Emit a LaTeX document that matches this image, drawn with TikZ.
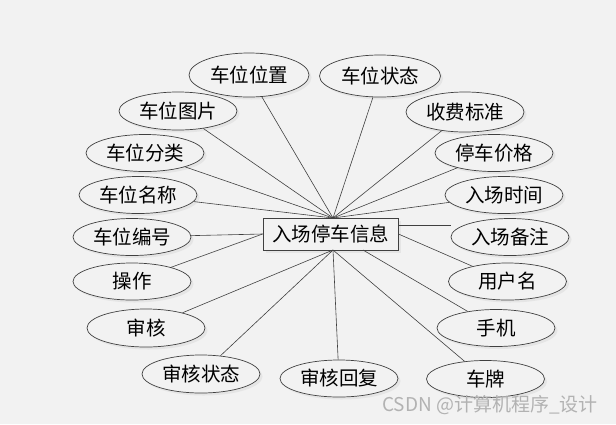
\documentclass[tikz,border=0pt]{standalone}
\usepackage{fontspec}
\setmainfont{Noto Sans CJK SC}
\usetikzlibrary{shapes.geometric,shadows}
\definecolor{bgcol}{HTML}{F2F2F2}
\definecolor{linecol}{HTML}{404040}
\tikzset{
  attr/.style={ellipse,draw=linecol,line width=0.7pt,fill=bgcol,
    minimum width=118,minimum height=37,inner sep=0pt,
    font=\fontsize{19.5}{21}\selectfont,
    drop shadow={shadow xshift=2.5pt,shadow yshift=-2.5pt,fill=black!10,opacity=1}},
  entity/.style={rectangle,draw=linecol,line width=0.8pt,fill=bgcol,
    minimum width=135,minimum height=32,inner sep=0pt,
    font=\fontsize{19.5}{21}\selectfont,
    drop shadow={shadow xshift=2.5pt,shadow yshift=-2.5pt,fill=black!10,opacity=1}},
  link/.style={draw=linecol,line width=0.6pt}
}
\begin{document}
\begin{tikzpicture}[x=1pt,y=-1pt]
  \fill[bgcol] (0,0) rectangle (616,424);
  \useasboundingbox (0,0) rectangle (616,424);
  % entity
  \node[entity] (hub) at (330.5,234) {入场停车信息};
  % attributes, left side
  \node[attr,minimum width=120,minimum height=44] (pos) at (249,75) {车位位置};
  \node[attr,minimum height=38] (img) at (178,111) {车位图片};
  \node[attr] (cat) at (145,153) {车位分类};
  \node[attr] (name) at (138,195) {车位名称};
  \node[attr] (num) at (132,237) {车位编号};
  \node[attr] (op) at (132,281.5) {操作};
  \node[attr,minimum height=38] (aud) at (146,328) {审核};
  \node[attr,minimum height=38] (ast) at (201,374) {审核状态};
  \node[attr] (arep) at (339,378.5) {审核回复};
  % attributes, right side
  \node[attr,minimum width=121,minimum height=42] (stat) at (380,76) {车位状态};
  \node[attr,minimum height=40] (fee) at (465,112) {收费标准};
  \node[attr] (price) at (494,153) {停车价格};
  \node[attr] (tin) at (504,195) {入场时间};
  \node[attr] (rem) at (510,237) {入场备注};
  \node[attr] (user) at (507.5,281.5) {用户名};
  \node[attr] (phone) at (496,328) {手机};
  \node[attr] (plate) at (485.5,379) {车牌};
  % connectors
  \coordinate (top) at (333,218);
  \coordinate (bot) at (333,250);
  \coordinate (botr) at (363,250);
  \coordinate (remr) at (398,225);
  \foreach \a in {pos,img,cat,name,stat,fee,price,tin}
    \draw[link] (top) -- (\a);
  \foreach \a in {aud,ast,arep,plate}
    \draw[link] (bot) -- (\a);
  \draw[link] (hub.west) -- (num);
  \draw[link] (hub.west) -- (op);
  \draw[link] (hub.east) -- (user);
  \draw[link] (botr) -- (phone);
  \draw[link] (remr) -- (remr -| rem.west);
  % watermark
  \node[text=black!30,font=\fontsize{19}{20}\selectfont] (wm) at (490,405) {CSDN @计算机程序\_设计};
\end{tikzpicture}
\end{document}
